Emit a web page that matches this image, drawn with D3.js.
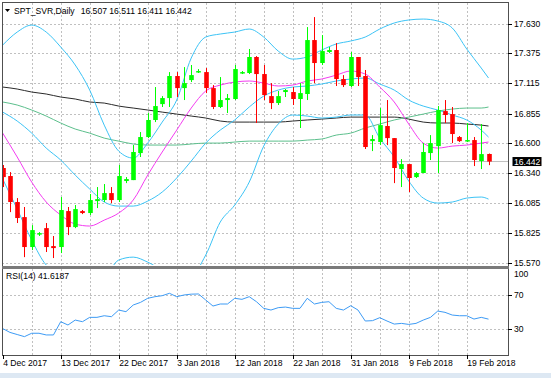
<!DOCTYPE html>
<html>
<head>
<meta charset="utf-8">
<script src="https://cdn.jsdelivr.net/npm/d3@7"></script>
<style>
body { margin: 0; background: #fff; }
text { font-family: "Liberation Sans", Arial, sans-serif; font-size: 8.6px; fill: #000; }
</style>
</head>
<body>
<svg></svg>
<script>
// daily OHLC, 4 Dec 2017 .. 21 Feb 2018
var opens = [16.386, 16.317, 16.093, 15.963, 15.705, 15.817, 15.868, 15.713, 15.705, 16.015,
    15.877, 16.015, 15.998, 16.101, 16.110, 16.170, 16.110, 16.274, 16.282, 16.515,
    16.653, 16.800, 16.937, 16.989, 17.179, 17.075, 17.144, 17.213, 17.213, 17.075,
    16.912, 16.972, 16.981, 17.205, 17.205, 17.343, 17.196, 17.006, 16.946, 17.041,
    17.041, 16.981, 17.024, 17.489, 17.291, 17.386, 17.403, 17.153, 17.093, 17.343,
    17.179, 16.618, 16.610, 16.748, 16.644, 16.377, 16.420, 16.308, 16.343, 16.515,
    16.575, 16.877, 16.851, 16.653, 16.618, 16.627, 16.446, 16.507];
var highs = [16.412, 16.351, 16.127, 16.050, 15.894, 15.834, 15.912, 15.800, 16.136, 16.050,
    16.067, 16.024, 16.162, 16.222, 16.248, 16.222, 16.412, 16.308, 16.584, 16.696,
    16.860, 17.084, 17.006, 17.213, 17.213, 17.256, 17.274, 17.239, 17.248, 17.101,
    17.170, 17.024, 17.274, 17.222, 17.412, 17.351, 17.274, 17.118, 17.050, 17.067,
    17.084, 17.118, 17.601, 17.687, 17.532, 17.429, 17.463, 17.187, 17.386, 17.343,
    17.231, 16.670, 16.903, 16.972, 16.644, 16.463, 16.420, 16.351, 16.601, 16.670,
    16.920, 16.972, 16.912, 16.662, 16.774, 16.653, 16.765, 16.511];
var lows = [16.222, 16.006, 15.912, 15.618, 15.679, 15.800, 15.662, 15.610, 15.653, 15.808,
    15.868, 15.989, 15.981, 16.041, 16.093, 16.084, 16.093, 16.256, 16.282, 16.481,
    16.644, 16.782, 16.912, 16.912, 16.998, 16.972, 17.127, 17.205, 17.032, 16.894,
    16.903, 16.860, 16.972, 17.196, 17.196, 16.774, 16.972, 16.894, 16.929, 16.998,
    16.929, 16.731, 16.972, 17.118, 17.274, 17.377, 17.093, 17.084, 17.084, 17.093,
    16.550, 16.532, 16.584, 16.584, 16.256, 16.222, 16.179, 16.300, 16.343, 16.455,
    16.343, 16.774, 16.601, 16.610, 16.610, 16.403, 16.377, 16.411];
var closes = [16.308, 16.093, 15.955, 15.705, 15.851, 15.825, 15.705, 15.696, 16.024, 15.877,
    16.032, 15.998, 16.110, 16.118, 16.170, 16.110, 16.317, 16.291, 16.524, 16.653,
    16.800, 16.920, 16.989, 17.179, 17.075, 17.118, 17.187, 17.222, 17.075, 16.912,
    16.972, 16.989, 17.239, 17.213, 17.343, 17.196, 17.015, 16.946, 17.006, 17.058,
    16.981, 17.032, 17.489, 17.291, 17.394, 17.403, 17.153, 17.101, 17.343, 17.170,
    16.567, 16.636, 16.756, 16.644, 16.386, 16.420, 16.300, 16.343, 16.524, 16.601,
    16.886, 16.843, 16.679, 16.618, 16.627, 16.455, 16.506, 16.442];

// indicator lines, read every second bar (plus the last bar)
var bbUpper = [17.446, 17.558, 17.618, 17.558, 17.429, 17.274, 17.058, 16.756, 16.532, 16.472,
    16.601, 16.782, 16.972, 17.334, 17.515, 17.541, 17.558, 17.584, 17.515, 17.394,
    17.325, 17.343, 17.403, 17.455, 17.481, 17.515, 17.584, 17.636, 17.662, 17.670,
    17.653, 17.593, 17.412, 17.248, 17.162];
var bbMiddle = [16.868, 16.791, 16.687, 16.558, 16.455, 16.325, 16.205, 16.093, 16.058, 16.058,
    16.101, 16.179, 16.300, 16.446, 16.601, 16.713, 16.800, 16.912, 17.006, 17.058,
    17.084, 17.093, 17.110, 17.136, 17.153, 17.162, 17.110, 17.058, 16.972, 16.920,
    16.886, 16.843, 16.800, 16.713, 16.653];
var bbLower = [16.291, 16.032, 15.765, 15.550, 15.481, 15.360, 15.351, 15.429, 15.593, 15.618,
    15.575, 15.506, 15.463, 15.463, 15.636, 15.920, 16.067, 16.265, 16.575, 16.765,
    16.843, 16.834, 16.817, 16.825, 16.843, 16.843, 16.644, 16.481, 16.274, 16.127,
    16.084, 16.093, 16.127, 16.136, 16.118];
var maFast = [16.687, 16.481, 16.265, 16.093, 15.981, 15.903, 15.886, 15.937, 15.998, 16.110,
    16.325, 16.524, 16.713, 16.903, 17.050, 17.101, 17.127, 17.136, 17.118, 17.093,
    17.101, 17.136, 17.153, 17.187, 17.222, 17.196, 17.084, 16.955, 16.765, 16.601,
    16.558, 16.575, 16.584, 16.601, 16.610];
var maMid = [16.955, 16.929, 16.886, 16.834, 16.774, 16.722, 16.687, 16.644, 16.618, 16.593,
    16.584, 16.584, 16.584, 16.593, 16.601, 16.601, 16.610, 16.618, 16.618, 16.618,
    16.618, 16.627, 16.636, 16.670, 16.687, 16.731, 16.765, 16.800, 16.825, 16.851,
    16.877, 16.894, 16.903, 16.903, 16.912];
var maSlow = [17.084, 17.067, 17.041, 17.024, 16.998, 16.981, 16.955, 16.946, 16.920, 16.903,
    16.886, 16.868, 16.851, 16.834, 16.817, 16.791, 16.782, 16.782, 16.782, 16.782,
    16.791, 16.800, 16.808, 16.817, 16.825, 16.825, 16.825, 16.825, 16.808, 16.782,
    16.774, 16.774, 16.765, 16.756, 16.748];

var rsi = [30.5, 26, 23.5, 21, 25, 25, 23, 23, 38.6, 34.7,
    40.5, 38.6, 43.7, 43.7, 45.6, 44.5, 52.3, 50.4, 58.2, 61.3,
    66.1, 68, 69.2, 72, 68, 70, 71, 71.2, 64.1, 57,
    59.4, 59.4, 66.1, 64.9, 68, 62.1, 54.3, 52.3, 55.1, 55.8,
    54.3, 54.3, 66.1, 59.4, 61.3, 62.1, 54.3, 52.3, 57.4, 52.3,
    39.4, 39.8, 43.3, 39.4, 35.8, 36.6, 35.4, 36.6, 40.5, 43.7,
    51.1, 49.6, 46.4, 45.6, 45.6, 41.7, 43.7, 41.6];

var priceTicks = [17.630, 17.375, 17.115, 16.855, 16.600, 16.340, 16.085, 15.825, 15.570];
var rsiTicks = [100, 70, 30];
var rsiGrid = [70, 30];
var dateLabels = ["4 Dec 2017", "13 Dec 2017", "22 Dec 2017", "3 Jan 2018", "12 Jan 2018",
    "22 Jan 2018", "31 Jan 2018", "9 Feb 2018", "19 Feb 2018"];
var barsPerLabel = 8;
var lastPrice = 16.442;
var title = "SPT_SVR,Daily", titleValues = "16.507 16.511 16.411 16.442";
var rsiTitle = "RSI(14) 41.6187";

var width = 551, height = 378;
var svg = d3.select("svg").attr("width", width).attr("height", height);

var left = 2, right = 508, mainTop = 2.5, mainBottom = 265,
    rsiTop = 269, rsiBottom = 355;

var n = closes.length;
var x = d3.scaleLinear().domain([0, n - 1]).range([2.7, 488.5]);
var y = d3.scaleLinear().domain([15.570, 17.630]).range([262.7, 23.7]);
var yR = d3.scaleLinear().domain([0, 100]).range([354.5, 269.5]);

var lineIdx = d3.range(0, n - 1, 2).concat([n - 1]);

var defs = svg.append("defs");
defs.append("clipPath").attr("id", "clipMain")
    .append("rect").attr("x", left).attr("y", mainTop).attr("width", right - left).attr("height", mainBottom - mainTop);
defs.append("clipPath").attr("id", "clipRsi")
    .append("rect").attr("x", left).attr("y", rsiTop).attr("width", right - left).attr("height", rsiBottom - rsiTop);

// bottom window strip
svg.append("rect").attr("x", 0).attr("y", 373).attr("width", width).attr("height", 5).attr("fill", "#dde8f3");

// grid
var grid = svg.append("g").attr("stroke", "#c0c0c0").attr("stroke-dasharray", "2,2").attr("shape-rendering", "crispEdges");
grid.selectAll(".hg").data(priceTicks).join("line")
    .attr("x1", left).attr("x2", right)
    .attr("y1", d => Math.round(y(d)) + 0.5).attr("y2", d => Math.round(y(d)) + 0.5);
grid.selectAll(".rg").data(rsiGrid).join("line").attr("class", "rg")
    .attr("x1", left).attr("x2", right)
    .attr("y1", d => Math.round(yR(d)) + 0.5).attr("y2", d => Math.round(yR(d)) + 0.5);
var vIdx = d3.range(4, n, 4);
grid.selectAll(".vg").data(vIdx).join("line").attr("class", "vg")
    .attr("x1", d => Math.round(x(d)) + 0.5).attr("x2", d => Math.round(x(d)) + 0.5)
    .attr("y1", mainTop).attr("y2", mainBottom);
grid.selectAll(".vr").data(vIdx).join("line").attr("class", "vr")
    .attr("x1", d => Math.round(x(d)) + 0.5).attr("x2", d => Math.round(x(d)) + 0.5)
    .attr("y1", rsiTop).attr("y2", rsiBottom);

// current price line
svg.append("line").attr("x1", left).attr("x2", right)
    .attr("y1", y(lastPrice)).attr("y2", y(lastPrice))
    .attr("stroke", "#c0c0c0").attr("stroke-width", 1);

var main = svg.append("g").attr("clip-path", "url(#clipMain)");

var line = d3.line()
    .x((d, i) => x(lineIdx[i]))
    .y(d => y(d))
    .curve(d3.curveMonotoneX);

var series = [
    { v: maSlow, c: "#2a2a2a" },
    { v: maMid, c: "#5cbf8c" },
    { v: bbUpper, c: "#3cc3f5" },
    { v: bbMiddle, c: "#3cc3f5" },
    { v: bbLower, c: "#3cc3f5" },
    { v: maFast, c: "#f33cf0" }
];
main.selectAll("path.ind").data(series).join("path").attr("class", "ind")
    .attr("d", d => line(d.v))
    .attr("fill", "none").attr("stroke", d => d.c).attr("stroke-width", 1);

// candles
var bw = 4.6;
var candles = main.selectAll("g.c").data(d3.range(n)).join("g").attr("class", "c");
candles.append("line")
    .attr("x1", i => Math.round(x(i)) + 0.5).attr("x2", i => Math.round(x(i)) + 0.5)
    .attr("y1", i => y(highs[i])).attr("y2", i => y(lows[i]))
    .attr("stroke", i => closes[i] >= opens[i] ? "#00ff00" : "#ff0000");
candles.append("rect")
    .attr("x", i => Math.round(x(i)) + 0.5 - bw / 2)
    .attr("y", i => y(Math.max(opens[i], closes[i])))
    .attr("width", bw)
    .attr("height", i => Math.max(1.5, Math.abs(y(opens[i]) - y(closes[i]))))
    .attr("fill", i => closes[i] >= opens[i] ? "#00ff00" : "#ff0000");

// RSI
var rsiLine = d3.line().x((d, i) => x(i)).y(d => yR(d));
svg.append("path").attr("clip-path", "url(#clipRsi)")
    .attr("d", rsiLine(rsi))
    .attr("fill", "none").attr("stroke", "#3d9bf5").attr("stroke-width", 1);

// frames
var frame = svg.append("g").attr("fill", "none").attr("stroke", "#505050").attr("shape-rendering", "crispEdges");
frame.append("line").attr("x1", left + 0.5).attr("x2", left + 0.5).attr("y1", 2).attr("y2", rsiBottom);
frame.append("line").attr("x1", left).attr("x2", right).attr("y1", 2.5).attr("y2", 2.5);
frame.append("line").attr("x1", right + 0.5).attr("x2", right + 0.5).attr("y1", 2).attr("y2", rsiBottom + 1);
frame.append("line").attr("x1", left).attr("x2", right + 1).attr("y1", rsiBottom + 0.5).attr("y2", rsiBottom + 0.5).attr("stroke-width", 1.5);
svg.append("rect").attr("x", left).attr("y", 266).attr("width", right - left + 1).attr("height", 3)
    .attr("fill", "#7a7a7a");

// right price axis
var yAxis = svg.append("g");
yAxis.selectAll("line").data(priceTicks).join("line")
    .attr("x1", right).attr("x2", right + 4)
    .attr("y1", d => Math.round(y(d)) + 0.5).attr("y2", d => Math.round(y(d)) + 0.5)
    .attr("stroke", "#000").attr("shape-rendering", "crispEdges");
yAxis.selectAll("text").data(priceTicks).join("text")
    .attr("x", right + 6).attr("y", d => y(d)).attr("dy", "0.35em")
    .text(d => d3.format(".3f")(d));

// last price tag
svg.append("rect").attr("x", right + 4.5).attr("y", y(lastPrice) - 4.5).attr("width", 29).attr("height", 9).attr("fill", "#000");
svg.append("text").attr("x", right + 6).attr("y", y(lastPrice)).attr("dy", "0.35em")
    .style("fill", "#fff").text(d3.format(".3f")(lastPrice));

// RSI axis
var rAxis = svg.append("g");
rAxis.selectAll("line").data(rsiGrid).join("line")
    .attr("x1", right).attr("x2", right + 4)
    .attr("y1", d => Math.round(yR(d)) + 0.5).attr("y2", d => Math.round(yR(d)) + 0.5)
    .attr("stroke", "#000");
rAxis.selectAll("text").data(rsiTicks).join("text")
    .attr("x", right + 6).attr("y", d => Math.max(yR(d), 274)).attr("dy", "0.35em")
    .text(d => d);

// time axis
var tIdx = dateLabels.map((d, k) => k * barsPerLabel);
var tAxis = svg.append("g");
tAxis.selectAll("line").data(tIdx).join("line")
    .attr("x1", i => Math.round(x(i)) + 0.5).attr("x2", i => Math.round(x(i)) + 0.5)
    .attr("y1", rsiBottom).attr("y2", rsiBottom + 4)
    .attr("stroke", "#000");
tAxis.selectAll("text").data(tIdx).join("text")
    .attr("x", i => Math.max(x(i) + 0.5, 2)).attr("y", 363).attr("dy", "0.35em")
    .text((i, k) => dateLabels[k]);

// titles
svg.append("path").attr("d", "M5,9 L10,9 L7.5,12 Z").attr("fill", "#000");
var t = svg.append("text").attr("x", 14).attr("y", 10.5).attr("dy", "0.35em");
t.append("tspan").text(title);
t.append("tspan").attr("dx", 6).text(titleValues);
svg.append("text").attr("x", 6).attr("y", 275.5).attr("dy", "0.35em").text(rsiTitle);
</script>
</body>
</html>
